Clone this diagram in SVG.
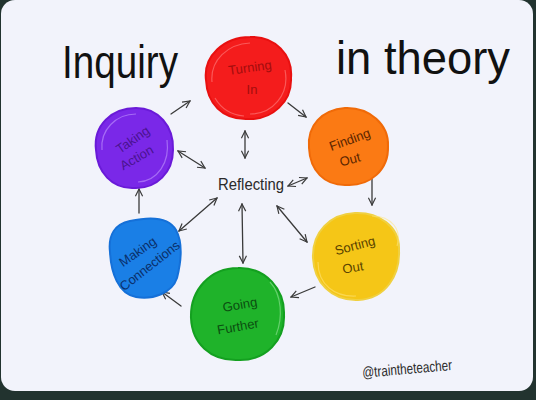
<svg xmlns="http://www.w3.org/2000/svg" width="536" height="400" viewBox="0 0 536 400">
<defs>
<style>
.hand{font-family:"Liberation Sans Narrow","Liberation Sans",sans-serif;}
.title{font-family:"Liberation Sans",sans-serif;font-size:46px;fill:#111;}
.lbl{font-family:"Liberation Sans Narrow","Liberation Sans",sans-serif;font-size:13px;text-anchor:middle;}
.con{fill:none;stroke:#3a3a3a;stroke-width:1.3;stroke-linecap:round;}
.tex{fill:none;stroke-width:1.2;opacity:0.55;}
</style>
<marker id="ah" viewBox="0 0 10 10" refX="9" refY="5" markerWidth="9" markerHeight="9" markerUnits="userSpaceOnUse" orient="auto-start-reverse">
<path d="M1,1 L9,5 L1,9" fill="none" stroke="#3a3a3a" stroke-width="1.3"/>
</marker>
</defs>
<rect x="0" y="0" width="536" height="400" fill="#22332f"/>
<rect x="1" y="0" width="532" height="391" rx="14" fill="#f2f3fb"/>

<g id="title">
<text class="title" x="62" y="78" textLength="116" lengthAdjust="spacingAndGlyphs">Inquiry</text>
<text class="title" x="336" y="74" font-size="52" textLength="174" lengthAdjust="spacingAndGlyphs">in theory</text>
</g>

<g id="connectors">
<line class="con" x1="171" y1="114" x2="190" y2="101" marker-end="url(#ah)"/>
<line class="con" x1="288" y1="103" x2="306" y2="117" marker-end="url(#ah)"/>
<line class="con" x1="245" y1="131" x2="245" y2="158" marker-start="url(#ah)" marker-end="url(#ah)"/>
<line class="con" x1="178" y1="151" x2="205" y2="168" marker-start="url(#ah)" marker-end="url(#ah)"/>
<line class="con" x1="288" y1="186" x2="307" y2="178" marker-start="url(#ah)" marker-end="url(#ah)"/>
<line class="con" x1="372" y1="179" x2="372" y2="205" marker-end="url(#ah)"/>
<line class="con" x1="315" y1="287" x2="291" y2="297" marker-end="url(#ah)"/>
<line class="con" x1="181" y1="306" x2="162" y2="292" marker-end="url(#ah)"/>
<line class="con" x1="139" y1="213" x2="139" y2="189" marker-end="url(#ah)"/>
<line class="con" x1="217" y1="198" x2="179" y2="231" marker-start="url(#ah)" marker-end="url(#ah)"/>
<line class="con" x1="242" y1="204" x2="243" y2="263" marker-start="url(#ah)" marker-end="url(#ah)"/>
<line class="con" x1="277" y1="206" x2="307" y2="242" marker-start="url(#ah)" marker-end="url(#ah)"/>
</g>

<g id="reflecting">
<text class="hand" x="218" y="190" font-size="17" fill="#2a2a2a" textLength="66" lengthAdjust="spacingAndGlyphs">Reflecting</text>
</g>

<g id="turning-in">
<path d="M206,80 C203,56 224,37 250,37 C275,36 293,55 291,78 C292,102 272,120 248,119 C222,120 207,103 206,80 Z" fill="#f41c1c" stroke="#e81010" stroke-width="2"/>
<path class="tex" stroke="#ff8a8a" d="M212,82 C210,60 228,44 250,43 M285,70 C290,95 272,114 250,114 M215,98 C222,110 232,115 244,116"/>
<text class="lbl" fill="#a30d0d" transform="rotate(-8 250 68)" x="250" y="72">Turning</text>
<text class="lbl" fill="#a30d0d" x="252" y="94">In</text>
</g>

<g id="taking-action">
<path d="M96,150 C93,125 112,108 136,108 C158,108 174,126 173,150 C173,172 157,189 134,188 C112,189 97,172 96,150 Z" fill="#7a28e8" stroke="#6a1ad8" stroke-width="2"/>
<path class="tex" stroke="#c8a0ff" d="M102,150 C100,130 116,114 136,114 M167,140 C170,162 158,181 138,182"/>
<text class="lbl" fill="#4a1390" transform="rotate(-35 133 140)" x="133" y="144">Taking</text>
<text class="lbl" fill="#4a1390" transform="rotate(-30 137 158)" x="137" y="162">Action</text>
</g>

<g id="finding-out">
<path d="M309,148 C307,125 322,110 345,108 C370,107 389,125 388,146 C389,170 370,186 347,185 C324,186 310,170 309,148 Z" fill="#fb7a14" stroke="#f06a08" stroke-width="2"/>
<text class="lbl" fill="#5a2500" transform="rotate(-20 350 140)" x="350" y="144">Finding</text>
<text class="lbl" fill="#5a2500" transform="rotate(-15 350 160)" x="350" y="164">Out</text>
</g>

<g id="sorting-out">
<path d="M313,258 C312,232 330,214 355,213 C378,212 400,226 399,250 C400,275 386,299 358,300 C331,301 314,282 313,258 Z" fill="#f5c617" stroke="#f0d040" stroke-width="2"/>
<path class="tex" stroke="#ffe680" d="M372,216 C392,216 402,230 397,246 M318,262 C318,285 335,297 356,296"/>
<text class="lbl" fill="#5a4300" transform="rotate(-15 355 246)" x="355" y="250">Sorting</text>
<text class="lbl" fill="#5a4300" transform="rotate(-10 353 268)" x="353" y="272">Out</text>
</g>

<g id="going-further">
<path d="M191,318 C190,290 210,268 238,268 C266,267 285,290 284,315 C285,340 266,361 238,360 C210,361 192,343 191,318 Z" fill="#1fb32a" stroke="#14a020" stroke-width="2"/>
<path class="tex" stroke="#9ee8a2" d="M270,282 C282,295 283,318 276,335"/>
<text class="lbl" fill="#0b4d10" transform="rotate(-10 240 305)" x="240" y="309">Going</text>
<text class="lbl" fill="#0b4d10" transform="rotate(-10 238 327)" x="238" y="331">Further</text>
</g>

<g id="making-connections">
<path d="M110,252 C108,235 115,224 130,221 C148,217 168,216 176,230 C183,243 181,262 177,278 C172,293 153,300 136,297 C118,294 111,272 110,252 Z" fill="#1a7fe6" stroke="#1570d8" stroke-width="2"/>
<text class="lbl" fill="#0a2f6a" transform="rotate(-35 138 252)" x="138" y="256">Making</text>
<text class="lbl" fill="#0a2f6a" transform="rotate(-38 150 266)" x="150" y="270">Connections</text>
</g>

<g id="credit">
<text class="hand" x="362" y="374" font-size="15" fill="#2a2a2a" transform="rotate(-5 406 368)" textLength="90" lengthAdjust="spacingAndGlyphs">@traintheteacher</text>
</g>
</svg>
